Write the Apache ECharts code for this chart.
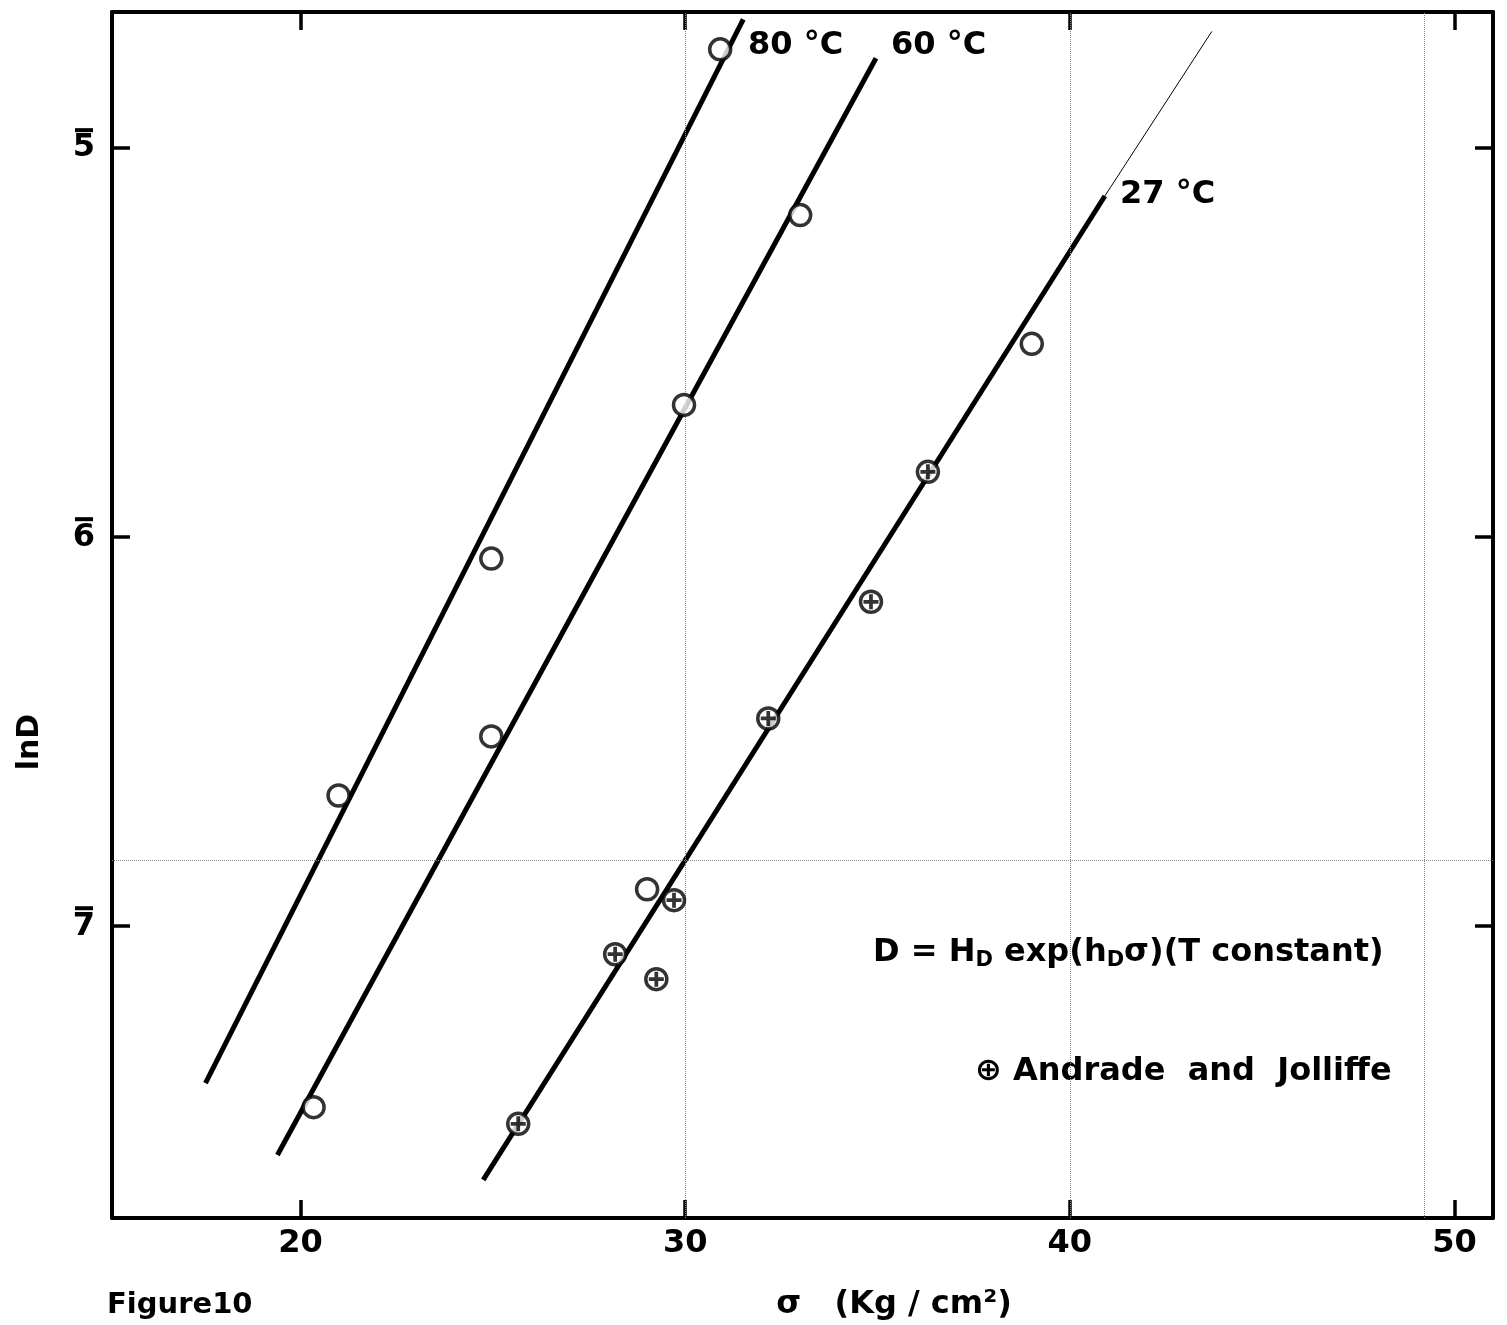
<!DOCTYPE html>
<html>
<head>
<meta charset="utf-8">
<script src="https://cdn.jsdelivr.net/npm/echarts@6/dist/echarts.min.js"></script>
<style>
  html, body { margin: 0; padding: 0; background: #fff; }
  #chart { width: 1507px; height: 1325px; }
</style>
</head>
<body>
<div id="chart"></div>
<script>
// sigma (kg/cm2) vs ln D, y values negative (bar notation on the labels)
const xTicks = [20, 30, 40, 50]
const yTicks = [-7, -6, -5]

const open80 = [[30.91, -4.746], [24.96, -6.055], [20.99, -6.664]]
const open60 = [[32.99, -5.172], [29.97, -5.660], [24.96, -6.512], [20.34, -7.465]]
const open27 = [[39.01, -5.503], [29.01, -6.905]]
const andrade = [[36.31, -5.832], [34.83, -6.166], [32.16, -6.466], [29.71, -6.933],
  [28.18, -7.072], [29.25, -7.136], [25.66, -7.508]]

const fit80 = [[17.53, -7.403], [31.51, -4.669]]
const fit60 = [[19.40, -7.588], [34.96, -4.769]]
const fit27 = [[24.75, -7.652], [40.91, -5.123]]
const fit27ext = [[40.91, -5.123], [43.69, -4.70]]

const FONT = 'DejaVu Sans'
const INK = '#000'

const chart = echarts.init(document.getElementById('chart'))

function fitLine(data, w) {
  return {
    type: 'line', data, symbol: 'none', silent: true, z: 2,
    lineStyle: { color: INK, width: w },
  }
}

function openPts(data) {
  return {
    type: 'scatter', data, symbol: 'circle', symbolSize: 21, z: 5,
    itemStyle: { color: '#fff', borderColor: INK, borderWidth: 3.5 },
  }
}

const axisCommon = {
  type: 'value',
  axisLine: { show: true, onZero: false, lineStyle: { color: INK, width: 4 } },
  splitLine: { show: false },
}

const tickStyle = { show: true, inside: true, length: 18, lineStyle: { color: INK, width: 3.5 } }

const texts = [
  { type: 'text', x: 748, y: 46, style: { text: '80 °C', font: `bold 32px "${FONT}"`, fill: INK, verticalAlign: 'middle' } },
  { type: 'text', x: 891, y: 46, style: { text: '60 °C', font: `bold 32px "${FONT}"`, fill: INK, verticalAlign: 'middle' } },
  { type: 'text', x: 1120, y: 195, style: { text: '27 °C', font: `bold 32px "${FONT}"`, fill: INK, verticalAlign: 'middle' } },
  {
    type: 'text', x: 873, y: 953,
    style: {
      text: '{t|D = H}{s|D}{t| exp(h}{s|D}{t|σ)(T constant)}',
      verticalAlign: 'middle',
      rich: {
        t: { font: `bold 32px "${FONT}"`, fill: INK },
        s: { font: `bold 21px "${FONT}"`, fill: INK, padding: [16, 0, 0, 0] },
      },
    },
  },
  { type: 'text', x: 975, y: 1072, style: { text: '⊕ Andrade  and  Jolliffe', font: `bold 32px "${FONT}"`, fill: INK, verticalAlign: 'middle' } },
  { type: 'text', x: 107, y: 1305, style: { text: 'Figure10', font: `bold 29px "${FONT}"`, fill: INK, verticalAlign: 'middle' } },
  { type: 'text', x: 894, y: 1305, style: { text: 'σ   (Kg / cm²)', font: `bold 32px "${FONT}"`, fill: INK, align: 'center', verticalAlign: 'middle' } },
  { type: 'text', x: 30, y: 742, rotation: Math.PI / 2, style: { text: 'lnD', font: `bold 30px "${FONT}"`, fill: INK, align: 'center', verticalAlign: 'middle' } },
]

chart.setOption({
  animation: false,
  backgroundColor: '#fff',
  grid: { left: 112, right: 14, top: 12, bottom: 107 },
  xAxis: [
    {
      ...axisCommon, min: 15.1, max: 51, position: 'bottom',
      axisTick: { ...tickStyle, customValues: xTicks },
      axisLabel: { customValues: xTicks, margin: 10, fontFamily: FONT, fontWeight: 'bold', fontSize: 32, color: INK },
    },
    {
      ...axisCommon, min: 15.1, max: 51, position: 'top',
      axisTick: { ...tickStyle, customValues: xTicks },
      axisLabel: { show: false },
    },
  ],
  yAxis: [
    {
      ...axisCommon, min: -7.75, max: -4.65, position: 'left',
      axisTick: { ...tickStyle, customValues: yTicks },
      axisLabel: {
        customValues: yTicks, margin: 17, color: INK,
        fontFamily: FONT, fontWeight: 'bold', fontSize: 32,
        formatter: v => String(Math.abs(v)),
      },
    },
    {
      ...axisCommon, min: -7.75, max: -4.65, position: 'right',
      axisTick: { ...tickStyle, customValues: yTicks },
      axisLabel: { show: false },
    },
  ],
  series: [
    {
      // faint graph-paper lines left in the scan
      type: 'line', data: [], silent: true, z: 1,
      markLine: {
        symbol: 'none', silent: true, label: { show: false },
        lineStyle: { color: '#888', width: 1, type: 'dotted' },
        data: [{ xAxis: 30 }, { xAxis: 40 }, { xAxis: 49.2 }, { yAxis: -6.835 }],
      },
    },
    fitLine(fit80, 5),
    fitLine(fit60, 5),
    fitLine(fit27, 5),
    fitLine(fit27ext, 1),
    openPts(open80),
    openPts(open60),
    openPts(open27),
    openPts(andrade),
    {
      type: 'scatter', data: andrade, z: 6, symbolSize: 15,
      symbol: 'path://M6,0H10V6H16V10H10V16H6V10H0V6H6Z',
      itemStyle: { color: INK },
    },
  ],
  graphic: texts,
})

// bar over each y label (negative characteristic), placed from the axis scale
const bars = yTicks.map(v => {
  const py = chart.convertToPixel({ yAxisIndex: 0 }, v)
  return { type: 'rect', shape: { x: 75, y: py - 20, width: 18, height: 4 }, style: { fill: INK } }
})
chart.setOption({ graphic: texts.concat(bars) })
</script>
</body>
</html>
